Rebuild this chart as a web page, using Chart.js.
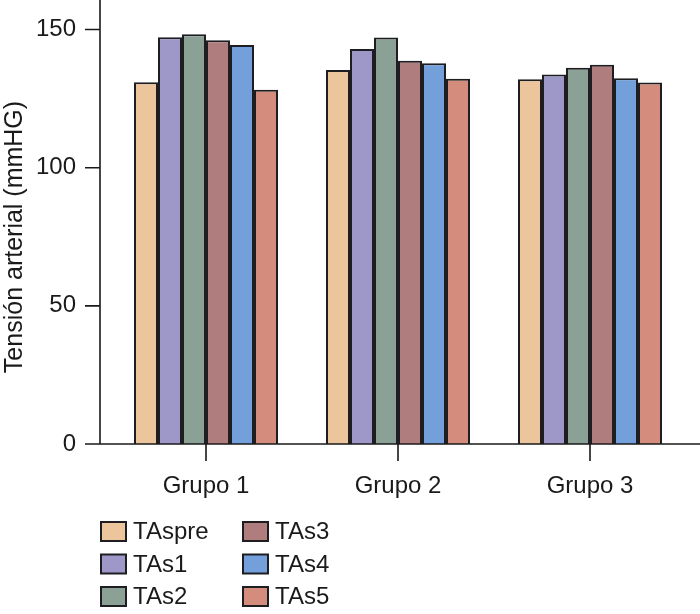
<!DOCTYPE html>
<html>
<head>
<meta charset="utf-8">
<script src="https://cdn.jsdelivr.net/npm/chart.js@4"></script>
<style>
  html, body { margin: 0; padding: 0; background: #fff; }
  #wrap { width: 700px; height: 614px; position: relative; }
</style>
</head>
<body>
<div id="wrap"><canvas id="chart"></canvas></div>
<script>
const groups = ['Grupo 1', 'Grupo 2', 'Grupo 3'];
const seriesNames = ['TAspre', 'TAs1', 'TAs2', 'TAs3', 'TAs4', 'TAs5'];
const TAspre = [130.9, 135.4, 132.0];
const TAs1 = [147.2, 143.0, 133.7];
const TAs2 = [148.3, 147.1, 136.2];
const TAs3 = [146.1, 138.7, 137.3];
const TAs4 = [144.4, 137.8, 132.4];
const TAs5 = [128.2, 132.2, 130.8];
const yTicks = [0, 50, 100, 150];
const yTitle = 'Tensión arterial (mmHG)';

const colors = ['#ecc59c', '#9e98c8', '#8ba195', '#af7d7e', '#73a0da', '#d48d7c'];
const FONT = '"Liberation Sans", Arial, sans-serif';
const values = [TAspre, TAs1, TAs2, TAs3, TAs4, TAs5];

const datasets = seriesNames.map((name, i) => ({
    label: name,
    data: values[i],
    backgroundColor: colors[i],
    borderColor: '#1e1e22',
    borderWidth: 2,
    categoryPercentage: 0.75,
    barPercentage: 1.0
}));

// axis lines, ticks, y title and a column-wise legend
const decor = {
    id: 'decor',
    afterDraw(chart) {
        const ctx = chart.ctx;
        const y = chart.scales.y, x = chart.scales.x;
        const y0 = y.getPixelForValue(0);
        const axisX = 100;
        ctx.save();
        ctx.strokeStyle = '#1a1a1a';
        ctx.lineWidth = 1.6;
        ctx.beginPath();
        ctx.moveTo(axisX, 0);
        ctx.lineTo(axisX, y0);
        ctx.lineTo(700, y0);
        yTicks.forEach(v => {
            const py = y.getPixelForValue(v);
            ctx.moveTo(axisX - 15, py);
            ctx.lineTo(axisX, py);
        });
        groups.forEach((g, i) => {
            const px = x.getPixelForValue(i);
            ctx.moveTo(px, y0);
            ctx.lineTo(px, y0 + 17);
        });
        ctx.stroke();

        ctx.fillStyle = '#1a1a1a';
        ctx.font = '25px ' + FONT;
        ctx.textAlign = 'center';
        ctx.textBaseline = 'middle';
        ctx.translate(15, 237);
        ctx.rotate(-Math.PI / 2);
        ctx.fillText(yTitle, 0, 0);
        ctx.restore();

        ctx.save();
        ctx.font = '24px ' + FONT;
        ctx.textBaseline = 'middle';
        chart.data.datasets.forEach((ds, i) => {
            const col = Math.floor(i / 3), row = i % 3;
            const bx = 101 + col * 142;
            const cy = 531.5 + row * 32.5;
            ctx.fillStyle = ds.backgroundColor;
            ctx.fillRect(bx, cy - 9.5, 25, 19);
            ctx.strokeStyle = '#1e1e22';
            ctx.lineWidth = 2;
            ctx.strokeRect(bx, cy - 9.5, 25, 19);
            ctx.fillStyle = '#1a1a1a';
            ctx.fillText(ds.label, bx + 32, cy + 1);
        });
        ctx.restore();
    }
};

new Chart(document.getElementById('chart'), {
    type: 'bar',
    data: { labels: groups, datasets },
    options: {
        responsive: true,
        maintainAspectRatio: false,
        animation: false,
        layout: { padding: { left: 0, right: 14, top: 0, bottom: 0 } },
        plugins: {
            legend: { display: false },
            tooltip: { enabled: false }
        },
        scales: {
            x: {
                grid: { display: false, drawTicks: false },
                border: { display: false },
                ticks: {
                    color: '#1a1a1a',
                    font: { family: FONT, size: 24 },
                    padding: 28
                },
                afterFit(scale) {
                    scale.height = 170;
                    scale.paddingLeft = 0;
                    scale.paddingRight = 0;
                }
            },
            y: {
                min: 0,
                max: 160.7,
                grid: { display: false, drawTicks: false },
                border: { display: false },
                ticks: {
                    stepSize: 50,
                    includeBounds: false,
                    color: '#1a1a1a',
                    font: { family: FONT, size: 24 },
                    padding: 34
                },
                afterFit(scale) {
                    scale.width = 110;
                    scale.paddingTop = 0;
                    scale.paddingBottom = 0;
                }
            }
        }
    },
    plugins: [decor]
});
</script>
</body>
</html>
